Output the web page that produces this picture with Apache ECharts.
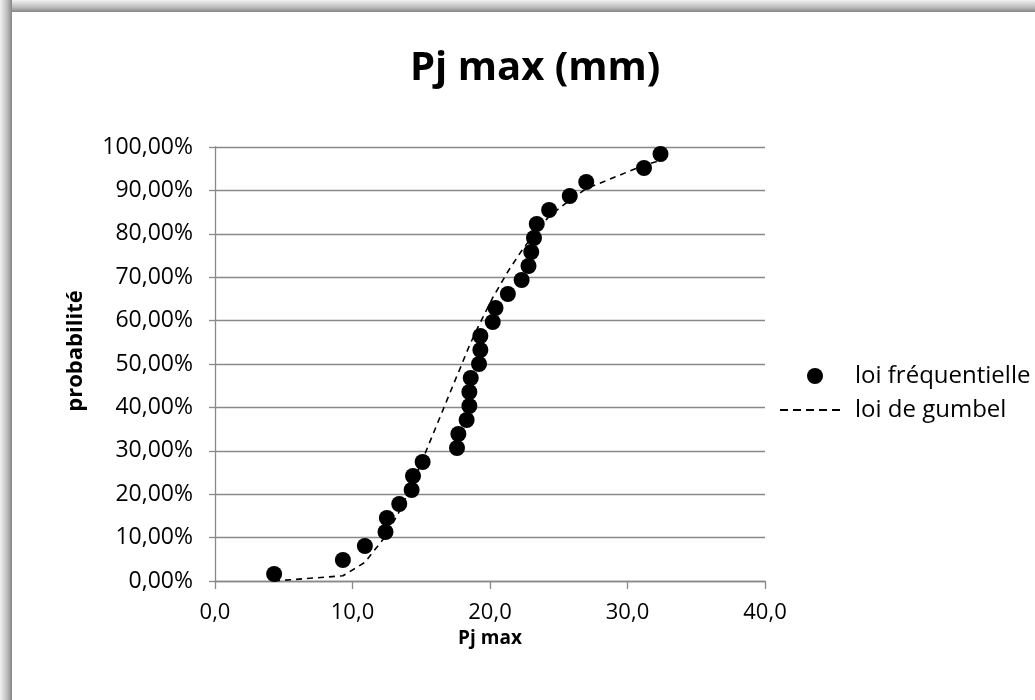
<!DOCTYPE html>
<html>
<head>
<meta charset="utf-8">
<script src="https://cdn.jsdelivr.net/npm/echarts@6/dist/echarts.min.js"></script>
<style>
html,body{margin:0;padding:0;background:#fff;}
#chart{width:1035px;height:700px;}
</style>
</head>
<body>
<div id="chart"></div>
<script>
// Data
const pjMax = [4.3, 9.3, 10.9, 12.4, 12.5, 13.4, 14.3, 14.4, 15.1, 17.6, 17.7, 18.3, 18.5, 18.5, 18.6, 19.2, 19.3, 19.3, 20.2, 20.4, 21.3, 22.3, 22.8, 23.0, 23.2, 23.4, 24.3, 25.8, 27.0, 31.2, 32.4];
const freqProb = [1.61, 4.84, 8.06, 11.29, 14.52, 17.74, 20.97, 24.19, 27.42, 30.65, 33.87, 37.10, 40.32, 43.55, 46.77, 50.00, 53.23, 56.45, 59.68, 62.90, 66.13, 69.35, 72.58, 75.81, 79.03, 82.26, 85.48, 88.71, 91.94, 95.16, 98.39];
const gumbelProb = [0.0, 1.2, 4.3, 10.3, 10.8, 16.0, 22.0, 22.7, 28.0, 47.3, 48.0, 52.7, 54.2, 54.2, 54.9, 59.0, 59.6, 59.6, 65.3, 66.4, 71.3, 76.1, 78.2, 79.1, 79.8, 80.8, 84.0, 87.8, 90.4, 95.8, 96.9];
const xTicks = ['0,0', '10,0', '20,0', '30,0', '40,0'];
const titleText = 'Pj max (mm)';
const xName = 'Pj max';
const yName = 'probabilité';
const seriesNames = ['loi fréquentielle', 'loi de gumbel'];

const FONT = '"Open Sans", Lato, sans-serif';
const freqData = pjMax.map((x, i) => [x, freqProb[i]]);
const gumbelData = pjMax.map((x, i) => [x, gumbelProb[i]]);
const dashIcon = 'path://M0,0h8v2h-8z M13,0h8v2h-8z M26,0h8v2h-8z M39,0h8v2h-8z M52,0h8v2h-8z';

const chart = echarts.init(document.getElementById('chart'), null, {renderer: 'canvas'});
chart.setOption({
  backgroundColor: '#ffffff',
  animation: false,
  textStyle: {fontFamily: FONT},
  graphic: [
    {type: 'rect', z: -10, shape: {x: 0, y: 0, width: 1035, height: 12},
     style: {fill: new echarts.graphic.LinearGradient(0, 0, 0, 1, [{offset: 0, color: '#f2f2f2'}, {offset: 0.6, color: '#bdbdbd'}, {offset: 1, color: '#858585'}])}},
    {type: 'rect', z: -10, shape: {x: 0, y: 0, width: 12, height: 700},
     style: {fill: new echarts.graphic.LinearGradient(0, 0, 1, 0, [{offset: 0, color: '#f2f2f2'}, {offset: 0.6, color: '#bdbdbd'}, {offset: 1, color: '#858585'}])}}
  ],
  title: {
    text: titleText, left: 405, top: 44,
    textStyle: {fontFamily: FONT, fontSize: 40, fontWeight: 'bold', color: '#000'}
  },
  legend: [
    {data: [seriesNames[0]], left: 807, top: 364, padding: 0, itemWidth: 16, itemHeight: 16, icon: 'circle',
     itemStyle: {opacity: 1},
     textStyle: {fontFamily: FONT, fontSize: 24, color: '#000', padding: [0, 0, 0, 27]}},
    {data: [{name: seriesNames[1], icon: dashIcon}], left: 780, top: 398, padding: 0, itemWidth: 60, itemHeight: 2,
     itemStyle: {color: '#000', opacity: 1},
     textStyle: {fontFamily: FONT, fontSize: 24, color: '#000', padding: [0, 0, 0, 10]}}
  ],
  grid: {left: 215, right: 270, top: 147, bottom: 119, containLabel: false, outerBoundsMode: 'none'},
  xAxis: {
    type: 'value', min: 0, max: 40, interval: 10,
    name: xName, nameLocation: 'middle', nameGap: 35,
    nameTextStyle: {fontFamily: FONT, fontSize: 19, fontWeight: 'bold', color: '#000'},
    axisLine: {show: true, lineStyle: {color: '#898989', width: 1.3}},
    axisTick: {show: true, length: 8, lineStyle: {color: '#898989', width: 1.3}},
    axisLabel: {margin: 21, fontFamily: FONT, fontSize: 22, color: '#000',
      formatter: v => xTicks[Math.round(v / 10)]},
    splitLine: {show: false}
  },
  yAxis: {
    type: 'value', min: 0, max: 100, interval: 10,
    name: yName, nameLocation: 'middle', nameGap: 128, nameRotate: 90,
    nameTextStyle: {fontFamily: FONT, fontSize: 22, fontWeight: 'bold', color: '#000', padding: [0, 0, 0, 26]},
    axisLine: {show: true, lineStyle: {color: '#898989', width: 1.3}},
    axisTick: {show: true, length: 6, lineStyle: {color: '#898989', width: 1.3}},
    axisLabel: {margin: 22, fontFamily: FONT, fontSize: 23, color: '#000',
      formatter: v => v.toFixed(2).replace('.', ',') + '%'},
    splitLine: {show: true, lineStyle: {color: '#898989', width: 1.3}}
  },
  series: [
    {name: seriesNames[0], type: 'scatter', data: freqData, symbol: 'circle', symbolSize: 16,
     itemStyle: {color: '#000', opacity: 1}, z: 3},
    {name: seriesNames[1], type: 'line', data: gumbelData, symbol: 'none', showSymbol: false,
     lineStyle: {color: '#000', width: 1.6, type: [6, 5]}, itemStyle: {color: '#000'}, z: 2}
  ]
});
</script>
</body>
</html>
